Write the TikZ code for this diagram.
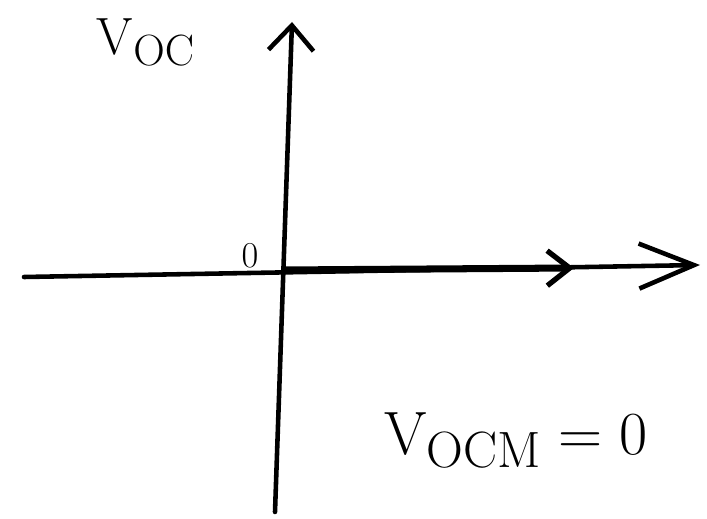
\documentclass[tikz,border=0pt]{standalone}
\usepackage{graphicx}
\usepackage{tikz}
\usetikzlibrary{arrows.meta}

\begin{document}
\begin{tikzpicture}[
  x=0.02cm, y=-0.02cm,
  axis/.style={line width=2.6pt, line cap=round},
  vector/.style={line width=4pt, line cap=round},
  label/.style={inner sep=0pt, font=\Huge}
]
\useasboundingbox (0,0) rectangle (707,519);
\coordinate (o) at (285,270);
\coordinate (ybot) at (275,512);
\coordinate (ytop) at (292,22);
\coordinate (xleft) at (24,277);
\coordinate (xright) at (700,265);
\coordinate (vend) at (574,268);
% axes
\draw[axis, -{Straight Barb[length=5mm,width=9mm,line width=2.6pt]}] (ybot) -- (ytop);
\draw[axis, -{Straight Barb[length=11mm,width=9mm,line width=2.6pt]}] (xleft) -- (xright);
% vector
\draw[vector, -{Straight Barb[length=4.5mm,width=7mm,line width=3pt]}] (o) -- (vend);
\node[label] (voc) at (146,42) {\scalebox{1.2}{$\mathrm{V}_{\mathrm{OC}}$}};
\node[inner sep=0pt, font=\huge] (zero) at (250,256) {$0$};
\node[label] (vocm) at (516,440) {\scalebox{1.4}{$\mathrm{V}_{\mathrm{OCM}} = 0$}};
\end{tikzpicture}
\end{document}
